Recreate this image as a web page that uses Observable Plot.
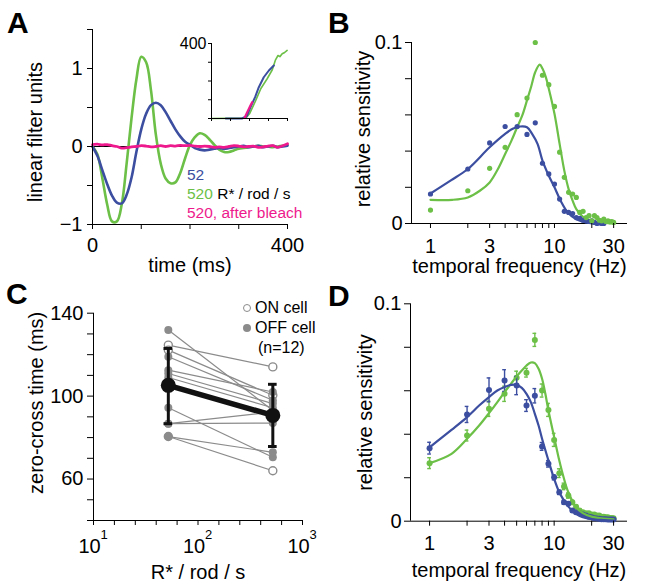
<!DOCTYPE html>
<html><head><meta charset="utf-8">
<script src="https://cdn.jsdelivr.net/npm/d3@7"></script>
<script src="https://cdn.jsdelivr.net/npm/@observablehq/plot@0.6"></script>
<style>
body{margin:0;background:#fff;}
#root{position:relative;width:649px;height:587px;overflow:hidden;background:#fff;font-family:"Liberation Sans",Arial,Helvetica,sans-serif;color:#000;}
.letter{position:absolute;font-weight:bold;font-size:30px;line-height:1;}
.lg{position:absolute;white-space:nowrap;}
.circ{position:absolute;width:8px;height:8px;border-radius:50%;box-sizing:border-box;}
</style></head><body><div id="root"></div>
<script>
// ---------------- DATA ----------------
// Panel A: linear filters
const timeMs = [0,10,20,30,40,50,60,70,80,90,100,110,120,130,140,150,160,170,180,190,200,210,220,230,240,250,260,270,280,290,300,310,320,330,340,350,360,370,380,390,400];
const filter52 = [0,-0.12,-0.3,-0.48,-0.63,-0.72,-0.73,-0.62,-0.4,-0.07,0.22,0.42,0.53,0.56,0.53,0.44,0.33,0.22,0.13,0.06,0.02,-0.02,-0.04,-0.05,-0.04,-0.03,-0.02,-0.03,-0.02,-0.01,0,0.01,-0.01,0,0.01,-0.01,0,0.01,-0.01,0,0.01];
const filter520 = [0,-0.1,-0.4,-0.74,-0.96,-0.96,-0.74,-0.22,0.36,0.86,1.15,1.08,0.72,0.15,-0.22,-0.41,-0.47,-0.46,-0.34,-0.15,0.02,0.12,0.17,0.15,0.09,0.02,-0.04,-0.07,-0.07,-0.05,-0.03,-0.02,-0.01,0,0.01,0,0,-0.01,0,0.01,0.02];
const filterBleach = [0.025,0.03,0.02,0.025,0.01,0,-0.02,-0.015,-0.005,0,0.01,0.005,-0.005,0,0.01,0,0.01,0.005,0.015,0.01,0.015,0.005,0,0.005,0,-0.01,-0.005,-0.01,0,0.01,0.005,-0.005,0,0.005,-0.01,-0.005,0.005,0.01,-0.01,0.01,0.035];
const aXTicks = [0,100,200,300,400], aXLabels = ["0","","","","400"];
const aYTicks = [-1,-0.5,0,0.5,1,1.5], aYLabels = ["−1","","0","","1",""];

// Panel A inset: nonlinearities
const inset52X = [0.75,1.6,1.85,2.05,2.3,2.49,2.75,3.02,3.28];
const inset52Y = [0,0,12,60,115,167,220,256,283];
const inset520X = [0,1.8,2.0,2.3,2.6,2.93,3.2,3.37,3.5,3.6,3.72,3.85,3.98];
const inset520Y = [0,2,25,90,160,212,260,313,336,330,345,352,363];
const insetBleachX = [1.75,1.88,2.05,2.14];
const insetBleachY = [5,34,69,87];
const inXTicks = [0,1,2,3,4];
const inYTicks = [0,100,200,300,400], inYLabels = ["","","","","400"];

// Panel B: example cell frequency response
const freqB52 = [1,2,3,4,5,6,7,8,9,10,11,12,13,14,15,16,17,18,19,20,21,22,23,24,25];
const sensB52 = [0.0163,0.0301,0.0445,0.0536,0.0536,0.0492,0.0556,0.0333,0.0274,0.0218,0.0135,0.0067,0.0061,0.0055,0.0033,0.0028,0.0018,0.0015,0.0011,0.0015,0.0006,0,0.0004,0,0];
const freqB520 = [1,2,3,4,5,6,7,8,9,10,11,12,13,14,15,16,17,18,19,20,21,22,23,24,25,26,27,28,29,30];
const sensB520 = [0.0074,0.0181,0.0305,0.0421,0.0601,0.0693,0.1,0.0819,0.0767,0.0647,0.0394,0.0255,0.0172,0.0163,0.0144,0.0061,0.0067,0.0033,0.0043,0.0015,0.0043,0.0033,0.0018,0.0015,0.0024,0.0011,0.0015,0.0009,0.0011,0.0006];
const fitB52F = [1,1.45,2,3,4,4.6,5.3,6,6.6,7.3,8,9,10,11.2,12.8,15,18,22,25];
const fitB52S = [0.0166,0.0237,0.0301,0.0421,0.0495,0.0523,0.0536,0.0532,0.0495,0.044,0.0348,0.0264,0.02,0.0126,0.0061,0.0024,0.0006,0,0];
const fitB520F = [1,1.5,2,2.5,3,3.5,4,4.5,5,5.5,6,6.5,7,7.6,8,8.5,9,10,11,12,13,14,15,17,20,25,30];
const fitB520S = [0.0131,0.0131,0.0144,0.0181,0.0227,0.0301,0.0384,0.0458,0.0532,0.0597,0.068,0.0758,0.0837,0.0878,0.0856,0.081,0.0745,0.0606,0.044,0.0292,0.019,0.0126,0.0079,0.0037,0.0015,0.0004,0];

// Panel C: zero-cross times (ms), 12 cells
const cLight = [52,520];
const cLeft  = [131.9,124.6,122.2,119.0,112.5,110.9,109.0,94.4,86.7,86.7,80.5,80.5];
const cRight = [93.1,114.1,100.4,98.0,102.0,96.4,94.4,70.5,87.0,92.3,72.9,64.0];
const cType  = ["OFF","ON","ON","OFF","OFF","OFF","OFF","OFF","OFF","OFF","OFF","ON"];
const cMean = [105.2,90.7], cLow = [86.7,75.7], cHigh = [123.0,105.7];
const cXTickExp = [1,1.2,1.4,1.6,1.8,2,2.2,2.4,2.6,2.8,3];
const cXLabelExp = [1,2,3];
const cYTicks = [40,50,60,70,80,90,100,110,120,130,140];
const cYLabels = ["","","60","","","","100","","","","140"];

// Panel D: population frequency response (mean ± sem)
const freqD = [1,2,3,4,5,6,7,8,9,10,11,12,13,14,15,16,17,18,19,20,21,22,23,24,25,26,27,28,29,30];
const sensD52 = [0.0336,0.0491,0.0604,0.0647,0.0624,0.0532,0.0577,0.0344,0.0264,0.0202,0.0133,0.0087,0.008,0.0049,0.0041,0.0037,0.0031,0.0026,0.0021,0.0018,0.0014,0.0012,0.0011,0.0009,0.0009,0.0009,0.0008,0.0008,0.0008,0.0008];
const errD52  = [0.0027,0.0037,0.0055,0.005,0.0042,0.0027,0.0033,0.0018,0.0015,0.0012,0.001,0.0009,0.0008,0.0007,0.0006,0.0006,0.0005,0.0005,0.0005,0.0005,0.0004,0.0004,0.0004,0.0004,0.0004,0.0004,0.0004,0.0004,0.0004,0.0004];
const sensD520 = [0.0267,0.0394,0.0517,0.0586,0.066,0.0683,0.0834,0.0601,0.0512,0.0374,0.0221,0.016,0.0118,0.0087,0.0067,0.0049,0.0041,0.0037,0.0037,0.0031,0.0031,0.0026,0.0026,0.0021,0.0021,0.0018,0.0018,0.0015,0.0015,0.0014];
const errD520  = [0.0025,0.0025,0.0035,0.0035,0.003,0.002,0.003,0.003,0.003,0.003,0.002,0.0015,0.0012,0.001,0.0009,0.0008,0.0007,0.0006,0.0006,0.0006,0.0005,0.0005,0.0005,0.0005,0.0005,0.0005,0.0005,0.0005,0.0005,0.0005];
const fitD52F = [1,1.5,2,2.5,3,3.5,4,4.5,5,5.5,6,6.5,7,7.5,8,9,10,11,12,13,15,17,20,25,30];
const fitD52S = [0.034,0.042,0.0479,0.0532,0.0571,0.0601,0.0617,0.0627,0.0627,0.0613,0.0586,0.0548,0.0494,0.044,0.0379,0.0279,0.0195,0.0133,0.0095,0.0067,0.0034,0.0018,0.0009,0.0005,0.0003];
const fitD520F = [1,1.5,2,2.5,3,3.5,4,4.5,5,5.5,6,6.5,7,7.5,8,8.5,9,10,11,12,13,15,17,20,25,30];
const fitD520S = [0.0267,0.031,0.0379,0.044,0.0497,0.0548,0.0594,0.0632,0.0666,0.0693,0.0716,0.073,0.0727,0.0701,0.0655,0.0586,0.0509,0.0387,0.0279,0.0195,0.0133,0.0064,0.0037,0.0021,0.0012,0.0009];

const fXTicks = [1,2,3,4,5,6,7,8,9,10,20,30];
const fXLabelTicks = [1,3,10,30];
const sYTicks = [0,0.02,0.04,0.06,0.08,0.1];
const sYLabels = ["0","","","","","0.1"];
const fDomain = [0.703,38.8];

// ---------------- HELPERS ----------------
const BLUE = "#3b4ea0", GREEN = "#6cbf47", MAGENTA = "#ee1a8d", GREY = "#8b8b8b";
const FONT = '"Liberation Sans", Arial, Helvetica, sans-serif';
const root = document.getElementById("root");
const rows = (xs, ys, extra) => xs.map((x, i) => Object.assign({x, y: ys[i]}, extra ? extra(i) : {}));
const fmt = (ticks, labels) => { const m = new Map(ticks.map((t, i) => [t, labels[i]])); return d => m.has(d) ? m.get(d) : ""; };
const style = {fontFamily: FONT, fontSize: "20px", background: "transparent", overflow: "visible", color: "#000"};
function put(el, left, top) { el.style.position = "absolute"; el.style.left = left + "px"; el.style.top = top + "px"; root.appendChild(el); return el; }
function div(cls, text, left, top, css) { const d = document.createElement("div"); d.className = cls; if (text != null) d.textContent = text; Object.assign(d.style, css || {}); return put(d, left, top); }
// axis titles: bottom title (baseline offset from frame bottom), left title (rotated, screen offsets)
const xTitle = (t, dy) => Plot.text([t], {text: d => d, frameAnchor: "bottom", lineAnchor: "bottom", textAnchor: "middle", dy, fontSize: 20});
const yTitle = (t, dx, dy) => Plot.text([t], {text: d => d, frameAnchor: "left", lineAnchor: "middle", textAnchor: "middle", rotate: -90, dx, dy, fontSize: 20});

// ---------------- PANEL A ----------------
const plotA = Plot.plot({
  width: 320, height: 290, marginLeft: 92, marginRight: 33, marginTop: 29, marginBottom: 66,
  style, x: {domain: [0, 400]}, y: {domain: [-1, 1.5]},
  marks: [
    Plot.ruleY([0], {stroke: "#000", strokeWidth: 1}),
    Plot.line(rows(timeMs, filter520), {x: "x", y: "y", stroke: GREEN, strokeWidth: 2.6, curve: "catmull-rom"}),
    Plot.line(rows(timeMs, filter52), {x: "x", y: "y", stroke: BLUE, strokeWidth: 2.6, curve: "catmull-rom"}),
    Plot.line(rows(timeMs, filterBleach), {x: "x", y: "y", stroke: MAGENTA, strokeWidth: 2.8, curve: "catmull-rom"}),
    Plot.ruleX([aXTicks[0]], {stroke: "#000", strokeWidth: 1}),
    Plot.ruleY([aYTicks[0]], {stroke: "#000", strokeWidth: 1}),
    Plot.axisX(aXTicks, {tickFormat: fmt(aXTicks, aXLabels), tickSize: 5, tickPadding: 8, label: null}),
    Plot.axisY(aYTicks, {tickFormat: fmt(aYTicks, aYLabels), tickSize: 5, tickPadding: 5, label: null}),
    xTitle("time (ms)", 47),
    yTitle("linear filter units", -57, 5)
  ]
});
put(plotA, 0, 0);

const plotInset = Plot.plot({
  width: 120, height: 95, marginLeft: 41, marginRight: 3, marginTop: 13, marginBottom: 7,
  style: Object.assign({}, style, {fontSize: "16px"}), x: {domain: [0, 4]}, y: {domain: [0, 400]},
  marks: [
    Plot.line(rows(inset520X, inset520Y), {x: "x", y: "y", stroke: GREEN, strokeWidth: 1.6}),
    Plot.line(rows(inset52X, inset52Y), {x: "x", y: "y", stroke: BLUE, strokeWidth: 2}),
    Plot.line(rows(insetBleachX, insetBleachY), {x: "x", y: "y", stroke: MAGENTA, strokeWidth: 2.2}),
    Plot.ruleX([inXTicks[0]], {stroke: "#000", strokeWidth: 1}),
    Plot.ruleY([inYTicks[0]], {stroke: "#000", strokeWidth: 1}),
    Plot.axisX(inXTicks, {tickFormat: () => "", tickSize: 3, tickPadding: 0, label: null}),
    Plot.axisY(inYTicks, {tickFormat: fmt(inYTicks, inYLabels), tickSize: 3, tickPadding: 2, label: null})
  ]
});
put(plotInset, 170, 30);

// A legend
div("lg", "52", 187, 165, {fontSize: "15.5px", lineHeight: "19px", color: BLUE});
const lg2 = div("lg", null, 187, 184, {fontSize: "15.5px", lineHeight: "19px"});
lg2.innerHTML = '<span style="color:' + GREEN + '">520</span> R* / rod / s';
div("lg", "520, after bleach", 187, 203, {fontSize: "15.5px", lineHeight: "19px", color: MAGENTA});

// ---------------- PANEL B ----------------
const freqTickLabels = (dy) => Plot.text(fXLabelTicks, {x: d => d, text: d => String(d), frameAnchor: "bottom", lineAnchor: "top", dy, fontSize: 20});
const plotB = Plot.plot({
  width: 329, height: 290, marginLeft: 91, marginRight: 22, marginTop: 42, marginBottom: 67,
  style, x: {type: "log", domain: fDomain}, y: {domain: [0, 0.1]},
  marks: [
    Plot.ruleX([fDomain[0]], {stroke: "#000", strokeWidth: 1}),
    Plot.ruleY([0], {stroke: "#000", strokeWidth: 1}),
    Plot.line(rows(fitB52F, fitB52S), {x: "x", y: "y", stroke: BLUE, strokeWidth: 2.2, curve: "catmull-rom"}),
    Plot.line(rows(fitB520F, fitB520S), {x: "x", y: "y", stroke: GREEN, strokeWidth: 2.2, curve: "catmull-rom"}),
    Plot.dot(rows(freqB52, sensB52), {x: "x", y: "y", r: 2.6, fill: BLUE}),
    Plot.dot(rows(freqB520, sensB520), {x: "x", y: "y", r: 2.6, fill: GREEN}),
    Plot.axisX(fXTicks, {tickFormat: () => "", tickSize: 5, label: null}),
    freqTickLabels(15),
    Plot.axisY(sYTicks, {tickFormat: fmt(sYTicks, sYLabels), tickSize: 6, tickPadding: 3, label: null}),
    xTitle("temporal frequency (Hz)", 49),
    yTitle("relative sensitivity", -48, -4)
  ]
});
put(plotB, 320, 0);

// ---------------- PANEL C ----------------
const cells = cLeft.map((v, i) => ({left: v, right: cRight[i], type: cType[i]}));
const cPts = cells.flatMap(c => [{x: cLight[0], y: c.left, type: c.type}, {x: cLight[1], y: c.right, type: c.type}]);
const cMeans = cLight.map((x, i) => ({x, y: cMean[i], lo: cLow[i], hi: cHigh[i]}));
const cXTicks = cXTickExp.map(e => Math.pow(10, e));
const cXLabTicks = cXLabelExp.map(e => Math.pow(10, e));
const plotC = Plot.plot({
  width: 320, height: 297, marginLeft: 93, marginRight: 18, marginTop: 22.7, marginBottom: 67,
  style, x: {type: "log", domain: [10, 1000]}, y: {domain: [40, 140]},
  marks: [
    Plot.ruleX([10], {stroke: "#000", strokeWidth: 1}),
    Plot.ruleY([40], {stroke: "#000", strokeWidth: 1}),
    Plot.link(cells, {x1: () => cLight[0], x2: () => cLight[1], y1: "left", y2: "right", stroke: GREY, strokeWidth: 1.2}),
    Plot.dot(cPts.filter(d => d.type === "ON"), {x: "x", y: "y", r: 4, fill: "white", stroke: GREY, strokeWidth: 1.4}),
    Plot.dot(cPts.filter(d => d.type === "OFF"), {x: "x", y: "y", r: 4, fill: GREY}),
    Plot.line(cMeans, {x: "x", y: "y", stroke: "#111", strokeWidth: 5.5}),
    Plot.ruleX(cMeans, {x: "x", y1: "lo", y2: "hi", stroke: "#111", strokeWidth: 3}),
    Plot.ruleY(cMeans, {y: "lo", x1: d => d.x / 1.1, x2: d => d.x * 1.1, stroke: "#111", strokeWidth: 3}),
    Plot.ruleY(cMeans, {y: "hi", x1: d => d.x / 1.1, x2: d => d.x * 1.1, stroke: "#111", strokeWidth: 3}),
    Plot.dot(cMeans, {x: "x", y: "y", r: 7.5, fill: "#111"}),
    Plot.axisX(cXTicks, {tickFormat: () => "", tickSize: 5, label: null}),
    Plot.text(cXLabTicks, {x: d => d, text: () => "10", frameAnchor: "bottom", lineAnchor: "bottom", dy: 32, dx: -4, fontSize: 20}),
    Plot.text(cXLabTicks, {x: d => d, text: d => String(Math.round(Math.log10(d))), frameAnchor: "bottom", lineAnchor: "bottom", textAnchor: "start", dy: 18, dx: 7, fontSize: 13}),
    Plot.axisY(cYTicks, {tickFormat: fmt(cYTicks, cYLabels), tickSize: 6, tickPadding: 4, label: null}),
    xTitle("R* / rod / s", 58),
    yTitle("zero-cross time (ms)", -57, -14)
  ]
});
put(plotC, 0, 290);

// C legend
div("circ", null, 243.3, 304.3, {border: "1.4px solid " + GREY, background: "#fff"});
div("circ", null, 243.3, 324.3, {background: GREY});
div("lg", "ON cell", 255, 297.8, {fontSize: "16px", lineHeight: "20px"});
div("lg", "OFF cell", 255, 317.8, {fontSize: "16px", lineHeight: "20px"});
div("lg", "(n=12)", 258, 337.5, {fontSize: "16px", lineHeight: "20px"});

// ---------------- PANEL D ----------------
const d52 = rows(freqD, sensD52, i => ({e: errD52[i]}));
const d520 = rows(freqD, sensD520, i => ({e: errD520[i]}));
const errMarks = (data, color) => [
  Plot.ruleX(data, {x: "x", y1: d => d.y - d.e, y2: d => d.y + d.e, stroke: color, strokeWidth: 1.4}),
  Plot.ruleY(data, {y: d => d.y - d.e, x1: d => d.x / 1.035, x2: d => d.x * 1.035, stroke: color, strokeWidth: 1.4}),
  Plot.ruleY(data, {y: d => d.y + d.e, x1: d => d.x / 1.035, x2: d => d.x * 1.035, stroke: color, strokeWidth: 1.4}),
  Plot.dot(data, {x: "x", y: "y", r: 3, fill: color})
];
const plotD = Plot.plot({
  width: 329, height: 297, marginLeft: 90, marginRight: 22, marginTop: 13.3, marginBottom: 66.3,
  style, x: {type: "log", domain: fDomain}, y: {domain: [0, 0.1]},
  marks: [
    Plot.ruleX([fDomain[0]], {stroke: "#000", strokeWidth: 1}),
    Plot.ruleY([0], {stroke: "#000", strokeWidth: 1}),
    ...errMarks(d520, GREEN),
    ...errMarks(d52, BLUE),
    Plot.line(rows(fitD520F, fitD520S), {x: "x", y: "y", stroke: GREEN, strokeWidth: 2.2, curve: "catmull-rom"}),
    Plot.line(rows(fitD52F, fitD52S), {x: "x", y: "y", stroke: BLUE, strokeWidth: 2.2, curve: "catmull-rom"}),
    Plot.axisX(fXTicks, {tickFormat: () => "", tickSize: 5, label: null}),
    freqTickLabels(14.5),
    Plot.axisY(sYTicks, {tickFormat: fmt(sYTicks, sYLabels), tickSize: 6, tickPadding: 3, label: null}),
    xTitle("temporal frequency (Hz)", 56),
    yTitle("relative sensitivity", -45, 0)
  ]
});
put(plotD, 320, 290);

// panel letters
div("letter", "A", 7, 8);
div("letter", "B", 328, 8);
div("letter", "C", 6, 279);
div("letter", "D", 328, 281);
</script></body></html>
